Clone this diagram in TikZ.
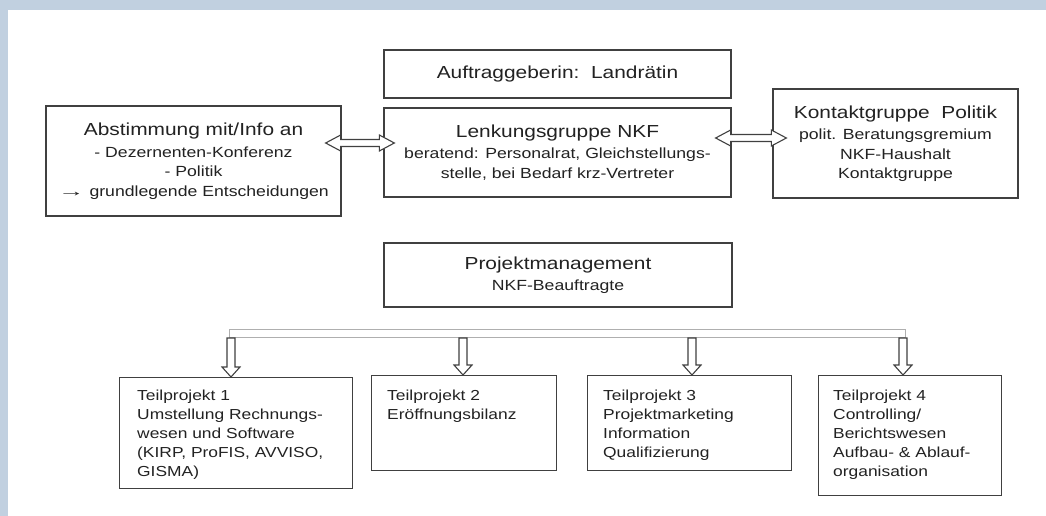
\documentclass[tikz,border=0pt]{standalone}
\usepackage{fontspec}
\usepackage{graphicx}
\setmainfont{Liberation Sans}[FakeStretch=1.2]
\usetikzlibrary{calc}
\definecolor{frame}{RGB}{193,208,224}
\definecolor{boxline}{RGB}{64,64,64}
\definecolor{txt}{RGB}{34,34,34}
\definecolor{barline}{RGB}{175,175,175}
\newcommand\ttlf{\fontsize{17.4}{21}\selectfont}
\newcommand\subf{\fontsize{14.7}{19.5}\selectfont}
\newcommand\tpf{\fontsize{14.5}{19}\selectfont}
\newcommand\blockdown[2]{\draw[blk] let \p1=#1, \p2=#2 in
  (\x1-4pt,\y1) -- (\x1-4pt,\y2+10pt) -- (\x1-9pt,\y2+10pt) -- (\x1,\y2) --
  (\x1+9pt,\y2+10pt) -- (\x1+4pt,\y2+10pt) -- (\x1+4pt,\y1) -- cycle;}
\newcommand\blockboth[2]{\draw[blk] let \p1=#1, \p2=#2 in
  (\x1,\y1) -- (\x1+15pt,\y1+8pt) -- (\x1+15pt,\y1+3.5pt) -- (\x2-15pt,\y1+3.5pt) --
  (\x2-15pt,\y1+8pt) -- (\x2,\y1) -- (\x2-15pt,\y1-8pt) -- (\x2-15pt,\y1-3.5pt) --
  (\x1+15pt,\y1-3.5pt) -- (\x1+15pt,\y1-8pt) -- cycle;}
\begin{document}
\begin{tikzpicture}[x=1pt,y=-1pt,
  box/.style={draw=boxline, line width=1.3pt, fill=white, text=txt, align=center, inner sep=0pt, font=\subf},
  tpbox/.style={draw=boxline, line width=1.3pt, fill=white, anchor=north west, inner sep=0pt},
  tptext/.style={anchor=north west, align=left, text=txt, inner sep=0pt, font=\tpf},
  blk/.style={draw=boxline, line width=1.1pt, fill=white, line join=miter}]
\useasboundingbox (0,0) rectangle (1046,516);
\fill[white] (0,0) rectangle (1046,516);
\fill[frame] (0,0) rectangle (1046,10);
\fill[frame] (0,0) rectangle (8,516);

% upper boxes
\node[box, minimum width=347pt, minimum height=48pt] (auft) at (557.5,74)
  {\ttlf Auftraggeberin:\ \ Landrätin};
\node[box, minimum width=347pt, minimum height=89pt] (lenk) at (557.5,152.5)
  {{\ttlf Lenkungsgruppe NKF}\\[1.5pt]beratend: Personalrat, Gleichstellungs-\\stelle, bei Bedarf krz-Vertreter};
\node[box, minimum width=295pt, minimum height=110pt] (abst) at (193.5,161)
  {{\ttlf Abstimmung mit/Info an}\\[2pt]- Dezernenten-Konferenz\\- Politik\\\scalebox{1.5}[1]{→} grundlegende Entscheidungen};
\node[box, minimum width=245pt, minimum height=109pt] (kont) at (895.5,143.5)
  {{\ttlf Kontaktgruppe\ \ Politik}\\[2pt]polit. Beratungsgremium\\NKF-Haushalt\\Kontaktgruppe};
\node[box, minimum width=348pt, minimum height=64pt] (proj) at (558,275)
  {{\ttlf Projektmanagement}\\[1pt]NKF-Beauftragte};

% double arrows
\coordinate (h1) at (0,143);
\coordinate (h2) at (0,138);
\blockboth{($(abst.east |- h1)+(-16,0)$)}{($(lenk.west |- h1)+(11,0)$)}
\blockboth{($(lenk.east |- h2)+(-16,0)$)}{($(kont.west |- h2)+(14,0)$)}

% distribution bar
\node[draw=barline, line width=1pt, fill=white, minimum width=676pt, minimum height=8pt,
  inner sep=0pt, anchor=north west] (bar) at (229,329) {};

% sub-project boxes
\node[tpbox, minimum width=233pt, minimum height=111pt] (tp1) at (119,377) {};
\node[tpbox, minimum width=185pt, minimum height=95pt] (tp2) at (371,375) {};
\node[tpbox, minimum width=204pt, minimum height=95pt] (tp3) at (587,375) {};
\node[tpbox, minimum width=183pt, minimum height=120pt] (tp4) at (818,375) {};

\node[tptext] (tp1t) at ($(tp1.north west)+(18,13)$)
  {Teilprojekt 1\\Umstellung Rechnungs-\\wesen und Software\\(KIRP, ProFIS, AVVISO,\\GISMA)};
\node[tptext] (tp2t) at ($(tp2.north west)+(16,15)$)
  {Teilprojekt 2\\Eröffnungsbilanz};
\node[tptext] (tp3t) at ($(tp3.north west)+(16,15)$)
  {Teilprojekt 3\\Projektmarketing\\Information\\Qualifizierung};
\node[tptext] (tp4t) at ($(tp4.north west)+(15,15)$)
  {Teilprojekt 4\\Controlling/\\Berichtswesen\\Aufbau- \& Ablauf-\\organisation};

% down arrows
\coordinate (d1) at (231,0);
\coordinate (d2) at (463,0);
\coordinate (d3) at (692,0);
\coordinate (d4) at (903,0);
\blockdown{(bar.south -| d1)}{(tp1.north -| d1)}
\blockdown{(bar.south -| d2)}{(tp2.north -| d2)}
\blockdown{(bar.south -| d3)}{(tp3.north -| d3)}
\blockdown{(bar.south -| d4)}{(tp4.north -| d4)}
\end{tikzpicture}
\end{document}
